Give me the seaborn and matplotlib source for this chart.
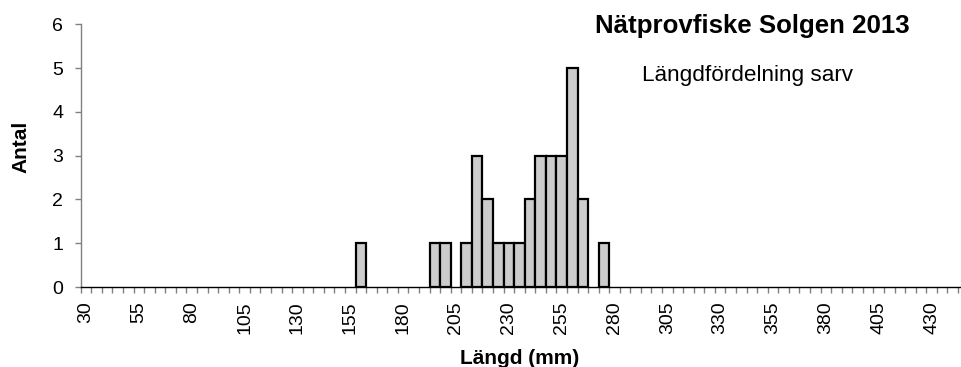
import matplotlib
matplotlib.use("Agg")
import matplotlib.pyplot as plt
import seaborn as sns
import pandas as pd

# Length classes on the x axis (mm, 5 mm classes)
length_classes = list(range(30, 445, 5))
# Length classes with catches and the number of fish in each
lengths_mm = [160, 195, 200, 210, 215, 220, 225, 230, 235, 240, 245, 250, 255, 260, 265, 275]
counts = [1, 1, 1, 1, 3, 2, 1, 1, 1, 2, 3, 3, 3, 5, 2, 1]
# Labelled classes and y ticks
labelled_classes = list(range(30, 435, 25))
y_ticks = [0, 1, 2, 3, 4, 5, 6]

title = "Nätprovfiske Solgen 2013"
subtitle = "Längdfördelning sarv"
x_label = "Längd (mm)"
y_label = "Antal"

sns.set_style("white")
plt.rcParams["font.family"] = ["Liberation Sans", "DejaVu Sans"]
plt.rcParams["text.color"] = "black"

df = pd.DataFrame({"Längd": [str(v) for v in lengths_mm], "Antal": counts})
order = [str(v) for v in length_classes]

W, H = 961, 367
fig = plt.figure(figsize=(W / 100, H / 100), dpi=100)
left_px, bottom_px, top_px = 80.7, 287.0, 24.3
ax = fig.add_axes([left_px / W, (H - bottom_px) / H, (W - left_px) / W, (bottom_px - top_px) / H])

sns.barplot(data=df, x="Längd", y="Antal", order=order, color="#cccccc",
            saturation=1, edgecolor="black", linewidth=1.6, width=1.0,
            errorbar=None, ax=ax)

n = len(length_classes)
ax.set_xlim(-0.5, n - 0.5 + 0.28)
ax.set_ylim(0, 6)

# y axis
ax.set_yticks(y_ticks)
ax.set_yticklabels([str(v) for v in y_ticks])
ax.tick_params(axis="y", which="major", direction="out", length=4, width=1,
               color="#808080", labelcolor="black", labelsize=14, pad=8.5, left=True)

# x axis: labels every fifth class, tick marks between classes
major_pos = [order.index(str(v)) for v in labelled_classes]
ax.set_xticks(major_pos)
ax.set_xticklabels([str(v) for v in labelled_classes], rotation=90)
ax.set_xticks([k - 0.5 for k in range(n + 1)], minor=True)
ax.tick_params(axis="x", which="major", length=0, labelsize=14, labelcolor="black",
               pad=10.5, bottom=True)
ax.tick_params(axis="x", which="minor", direction="out", length=4, width=1,
               color="#808080", bottom=True)

for side in ("top", "right"):
    ax.spines[side].set_visible(False)
ax.spines["left"].set_color("#808080")
ax.spines["left"].set_linewidth(1)
ax.spines["bottom"].set_color("black")
ax.spines["bottom"].set_linewidth(1)
ax.set_xlabel("")
ax.set_ylabel("")
ax.grid(False)

fig.text(519.5 / W, 1 - 364 / H, x_label, ha="center", va="baseline",
         fontsize=15, fontweight="bold")
fig.text(20.5 / W, 1 - 147 / H, y_label, ha="center", va="center",
         rotation=90, fontsize=15, fontweight="bold")
fig.text(752 / W, 1 - 33 / H, title, ha="center", va="baseline",
         fontsize=18.6, fontweight="bold")
fig.text(748 / W, 1 - 81 / H, subtitle, ha="center", va="baseline", fontsize=16.2)

fig.savefig("out.png", dpi=100, facecolor="white")
